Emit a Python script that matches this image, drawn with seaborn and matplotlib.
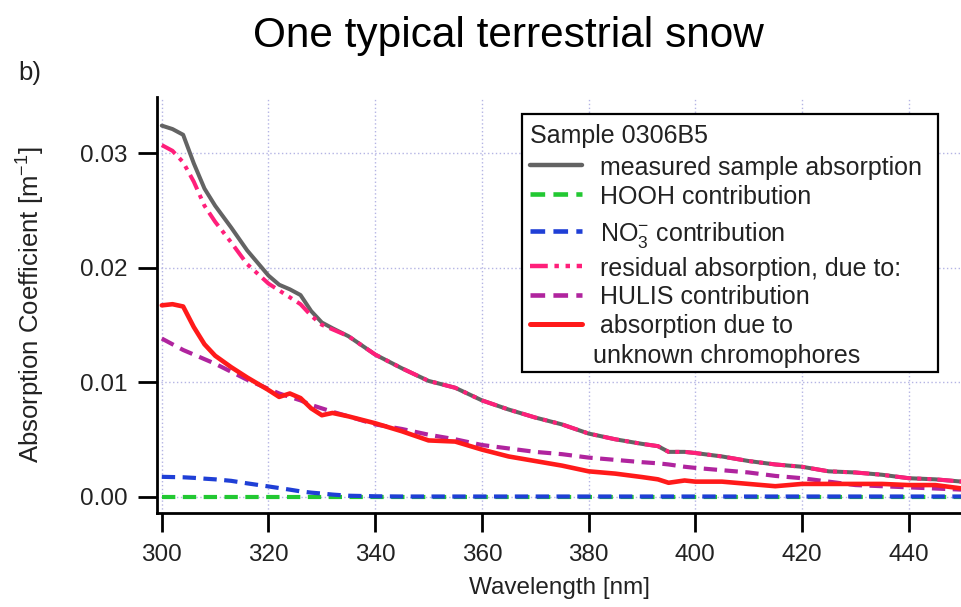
import numpy as np
import pandas as pd
import matplotlib
matplotlib.use("Agg")
import matplotlib.pyplot as plt
from matplotlib.lines import Line2D
from matplotlib.patches import Rectangle
import seaborn as sns

# ---------------- data ----------------
wavelength = [300, 302, 304, 306, 308, 310, 313, 316, 320, 322, 324, 326, 328, 330,
              332, 335, 340, 345, 350, 355, 360, 365, 370, 375, 380, 385, 390, 393,
              395, 398, 400, 405, 410, 415, 420, 425, 430, 435, 440, 445, 450]

measured = [0.0324, 0.0321, 0.0316, 0.0291, 0.0269, 0.0254, 0.0235, 0.0215, 0.0193, 0.0185,
            0.0181, 0.0176, 0.0162, 0.0152, 0.0147, 0.0140, 0.0124, 0.0112, 0.0101, 0.0095,
            0.0084, 0.0076, 0.0069, 0.0063, 0.0055, 0.0050, 0.0046, 0.0044, 0.0039, 0.0039,
            0.0038, 0.0035, 0.0031, 0.0028, 0.0026, 0.0022, 0.0021, 0.0019, 0.0016, 0.0015,
            0.0013]

hooh = [0.0] * 41

no3 = [0.00172, 0.00170, 0.00168, 0.00163, 0.00156, 0.00150, 0.00137, 0.00115, 0.00088,
       0.00074, 0.00060, 0.00045, 0.00034, 0.00026, 0.00017, 0.00007, 0.00002, 0.0, 0.0,
       0.0, 0.0, 0.0, 0.0, 0.0, 0.0, 0.0, 0.0, 0.0, 0.0, 0.0, 0.0, 0.0, 0.0, 0.0, 0.0,
       0.0, 0.0, 0.0, 0.0, 0.0, 0.0]

residual = [0.0307, 0.0302, 0.0292, 0.0275, 0.0254, 0.0240, 0.0222, 0.0203, 0.0186, 0.0180,
            0.0174, 0.0168, 0.0158, 0.0150, 0.0146, 0.0140, 0.0124, 0.0112, 0.0101, 0.0095,
            0.0084, 0.0076, 0.0069, 0.0063, 0.0055, 0.0050, 0.0046, 0.0044, 0.0039, 0.0039,
            0.0038, 0.0035, 0.0031, 0.0028, 0.0026, 0.0022, 0.0021, 0.0019, 0.0016, 0.0015,
            0.0013]

hulis = [0.0138, 0.0133, 0.0128, 0.0124, 0.0120, 0.0116, 0.0109, 0.0102, 0.0094, 0.0090,
         0.0087, 0.0084, 0.0080, 0.0077, 0.0074, 0.0070, 0.0063, 0.0059, 0.0054, 0.0050,
         0.0045, 0.0042, 0.0039, 0.0037, 0.0034, 0.0032, 0.0030, 0.0029, 0.0028, 0.0026,
         0.0025, 0.0023, 0.0021, 0.0018, 0.0016, 0.0013, 0.0010, 0.0009, 0.0008, 0.0007,
         0.0006]

unknown = [0.0167, 0.0168, 0.0166, 0.0148, 0.0133, 0.0123, 0.0113, 0.0104, 0.0093, 0.0087,
           0.0090, 0.0086, 0.0077, 0.0071, 0.0073, 0.0070, 0.0064, 0.0057, 0.0049, 0.0048,
           0.0041, 0.0035, 0.0031, 0.0027, 0.0022, 0.0020, 0.0017, 0.0015, 0.0012, 0.0014,
           0.0013, 0.0013, 0.0011, 0.0009, 0.0011, 0.0011, 0.0011, 0.0011, 0.0010, 0.0010,
           0.0007]

x_ticks = [300, 320, 340, 360, 380, 400, 420, 440]
y_ticks = [0.00, 0.01, 0.02, 0.03]
y_tick_labels = ["0.00", "0.01", "0.02", "0.03"]

legend_title = "Sample 0306B5"
labels = ["measured sample absorption", "HOOH contribution",
          r"NO$_\mathregular{3}^{\mathregular{-}}$ contribution",
          "residual absorption, due to:", "HULIS contribution",
          "absorption due to"]
extra_label = "unknown chromophores"

df = pd.DataFrame({"wl": wavelength, "measured": measured, "hooh": hooh, "no3": no3,
                   "residual": residual, "hulis": hulis, "unknown": unknown})

# ---------------- style ----------------
sns.set_style("white")
plt.rcParams["font.family"] = ["Liberation Sans", "DejaVu Sans"]
plt.rcParams["mathtext.fontset"] = "custom"
plt.rcParams["mathtext.rm"] = "Liberation Sans"
plt.rcParams["mathtext.it"] = "Liberation Sans:italic"
plt.rcParams["mathtext.bf"] = "Liberation Sans:bold"

W, H = 962, 607
fig = plt.figure(figsize=(W / 100, H / 100), dpi=100)
ax_l, ax_r, ax_t, ax_b = 157, 962, 97, 513
ax = fig.add_axes([ax_l / W, 1 - ax_b / H, (ax_r - ax_l) / W, (ax_b - ax_t) / H])

styles = {
    "hooh": dict(color="#22c832", lw=3.0, ls=(0, (3.2, 1.8))),
    "no3": dict(color="#1f3fd6", lw=3.0, ls=(0, (3.2, 1.8))),
    "measured": dict(color="#636363", lw=2.9, ls="-"),
    "residual": dict(color="#ff1f7a", lw=2.9, ls=(0, (4.0, 1.5, 1.0, 1.5, 1.0, 1.5))),
    "hulis": dict(color="#b0249e", lw=3.0, ls=(0, (3.2, 1.8))),
    "unknown": dict(color="#ff1a1a", lw=3.3, ls="-"),
}
order = ["hooh", "no3", "measured", "residual", "hulis", "unknown"]
for key in order:
    st = styles[key]
    sns.lineplot(data=df, x="wl", y=key, ax=ax, color=st["color"], linewidth=st["lw"],
                 linestyle=st["ls"], legend=False)

ax.set_xlim(299.1, 450)
ax.set_ylim(-0.00144, 0.0349)
ax.set_xticks(x_ticks)
ax.set_xticklabels([str(v) for v in x_ticks])
ax.set_yticks(y_ticks)
ax.set_yticklabels(y_tick_labels)
ax.grid(True, which="major", color="#b4b4e4", linestyle=(0, (1, 1.8)), linewidth=1.0)
ax.set_axisbelow(True)

for side in ["top", "right"]:
    ax.spines[side].set_visible(False)
for side in ["left", "bottom"]:
    ax.spines[side].set_linewidth(2.0)
    ax.spines[side].set_color("black")

ax.tick_params(axis="both", which="major", direction="out", length=14, width=2.0,
               colors="black", labelsize=17.5, labelcolor="#222222",
               bottom=True, left=True, top=False, right=False)
ax.tick_params(axis="y", pad=7)
ax.tick_params(axis="x", pad=8.5)

ax.set_xlabel("Wavelength [nm]", fontsize=17.5, color="#222222", labelpad=8)
ax.set_ylabel(r"Absorption Coefficient [m$^\mathregular{-1}$]", fontsize=18.5,
              color="#222222", labelpad=24)

fig.text(508 / W, 1 - 36 / H, "One typical terrestrial snow", fontsize=30.5,
         ha="center", va="center", color="black")
fig.text(18 / W, 1 - 73 / H, "b)", fontsize=18.5, ha="left", va="center", color="#222222")

# ---------------- legend box (manual layout) ----------------
def fx(px):
    return px / W


def fy(py):
    return 1 - py / H


box_l, box_r, box_t, box_b = 522, 938, 114, 372
fig.add_artist(Rectangle((fx(box_l), fy(box_b)), fx(box_r) - fx(box_l), fy(box_t) - fy(box_b),
                         transform=fig.transFigure, facecolor="white", edgecolor="black",
                         linewidth=1.6, zorder=5))
fs_leg = 18.0
fig.text(fx(530), fy(136), legend_title, fontsize=fs_leg, ha="left", va="center",
         color="#222222", zorder=6)
rows = [165, 194, 231, 266, 295, 324]
for key, label, ry in zip(["measured", "hooh", "no3", "residual", "hulis", "unknown"],
                          labels, rows):
    st = styles[key]
    fig.add_artist(Line2D([fx(530), fx(582)], [fy(ry), fy(ry)], transform=fig.transFigure,
                          color=st["color"], linewidth=st["lw"] + 0.3, linestyle=st["ls"],
                          zorder=6))
    fig.text(fx(600), fy(ry), label, fontsize=fs_leg, ha="left", va="center_baseline",
             color="#222222", zorder=6)
fig.text(fx(593), fy(353), extra_label, fontsize=fs_leg, ha="left", va="center_baseline",
         color="#222222", zorder=6)

fig.savefig("out.png", dpi=100)
